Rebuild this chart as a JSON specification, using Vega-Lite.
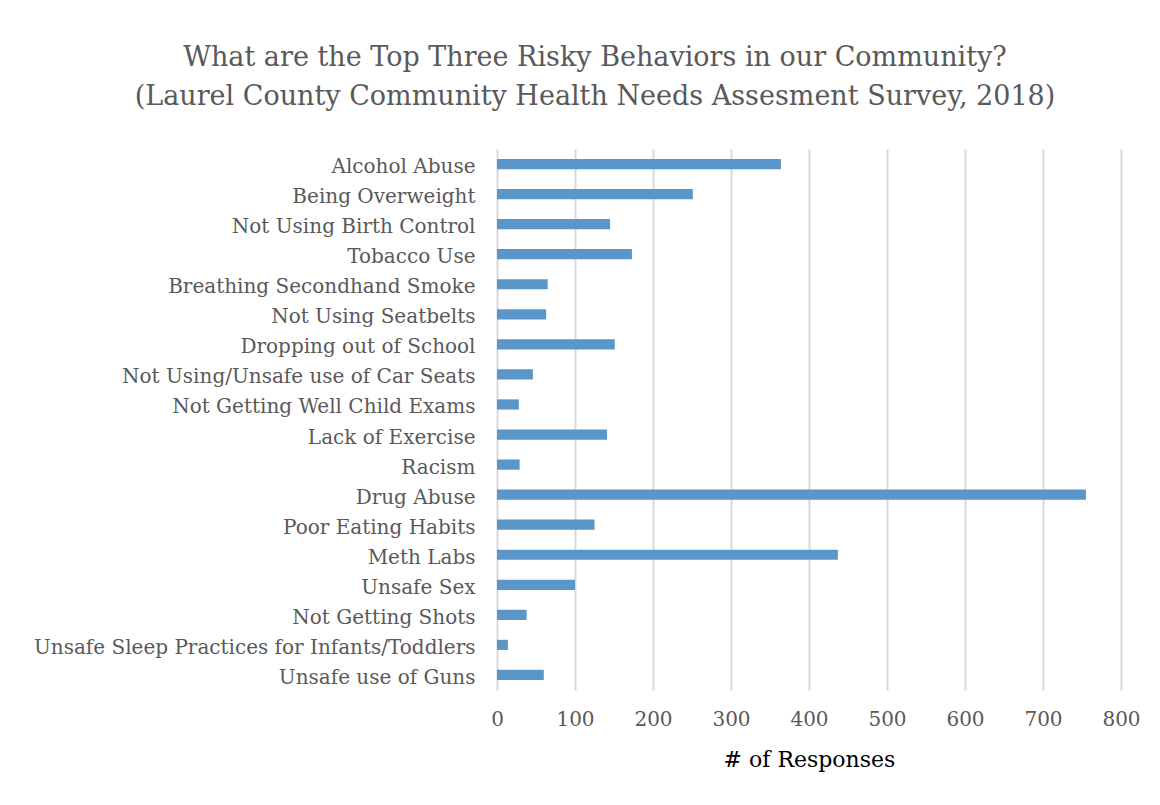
{
  "$schema": "https://vega.github.io/schema/vega-lite/v6.json",
  "width": 624,
  "height": 541,
  "autosize": {"type": "none"},
  "padding": {"left": 497, "top": 149, "right": 39, "bottom": 115},
  "background": "white",
  "title": {
    "text": ["What are the Top Three Risky Behaviors in our Community?", "(Laurel County Community Health Needs Assesment Survey, 2018)"],
    "font": "DejaVu Serif",
    "fontSize": 27,
    "fontWeight": "normal",
    "color": "#595959",
    "lineHeight": 39,
    "anchor": "middle",
    "dx": -214,
    "offset": 38
  },
  "data": {
    "values": [
      {"behavior": "Alcohol Abuse", "responses": 364},
      {"behavior": "Being Overweight", "responses": 251},
      {"behavior": "Not Using Birth Control", "responses": 145},
      {"behavior": "Tobacco Use", "responses": 173},
      {"behavior": "Breathing Secondhand Smoke", "responses": 65},
      {"behavior": "Not Using Seatbelts", "responses": 63},
      {"behavior": "Dropping out of School", "responses": 151},
      {"behavior": "Not Using/Unsafe use of Car Seats", "responses": 46},
      {"behavior": "Not Getting Well Child Exams", "responses": 28},
      {"behavior": "Lack of Exercise", "responses": 141},
      {"behavior": "Racism", "responses": 29},
      {"behavior": "Drug Abuse", "responses": 755},
      {"behavior": "Poor Eating Habits", "responses": 125},
      {"behavior": "Meth Labs", "responses": 437},
      {"behavior": "Unsafe Sex", "responses": 100},
      {"behavior": "Not Getting Shots", "responses": 38},
      {"behavior": "Unsafe Sleep Practices for Infants/Toddlers", "responses": 14},
      {"behavior": "Unsafe use of Guns", "responses": 60}
    ]
  },
  "mark": {"type": "bar", "color": "#5B96C9"},
  "encoding": {
    "y": {
      "field": "behavior",
      "type": "nominal",
      "sort": null,
      "scale": {"paddingInner": 0.66, "paddingOuter": 0.33},
      "axis": {
        "title": null,
        "domain": false,
        "ticks": false,
        "labelPadding": 22,
        "labelOffset": 3,
        "labelFont": "DejaVu Serif",
        "labelFontSize": 20,
        "labelColor": "#595959",
        "labelLimit": 600
      }
    },
    "x": {
      "field": "responses",
      "type": "quantitative",
      "scale": {"domain": [0, 800], "nice": false},
      "axis": {
        "title": "# of Responses",
        "titleFont": "DejaVu Serif",
        "titleFontSize": 22,
        "titleFontWeight": "normal",
        "titleColor": "#000000",
        "titlePadding": 20,
        "values": [0, 100, 200, 300, 400, 500, 600, 700, 800],
        "domain": false,
        "ticks": false,
        "grid": true,
        "gridColor": "#d9d9d9",
        "gridWidth": 2,
        "labelFlush": false,
        "labelPadding": 19,
        "labelFont": "DejaVu Serif",
        "labelFontSize": 20,
        "labelColor": "#595959"
      }
    }
  },
  "config": {"view": {"stroke": null}}
}
